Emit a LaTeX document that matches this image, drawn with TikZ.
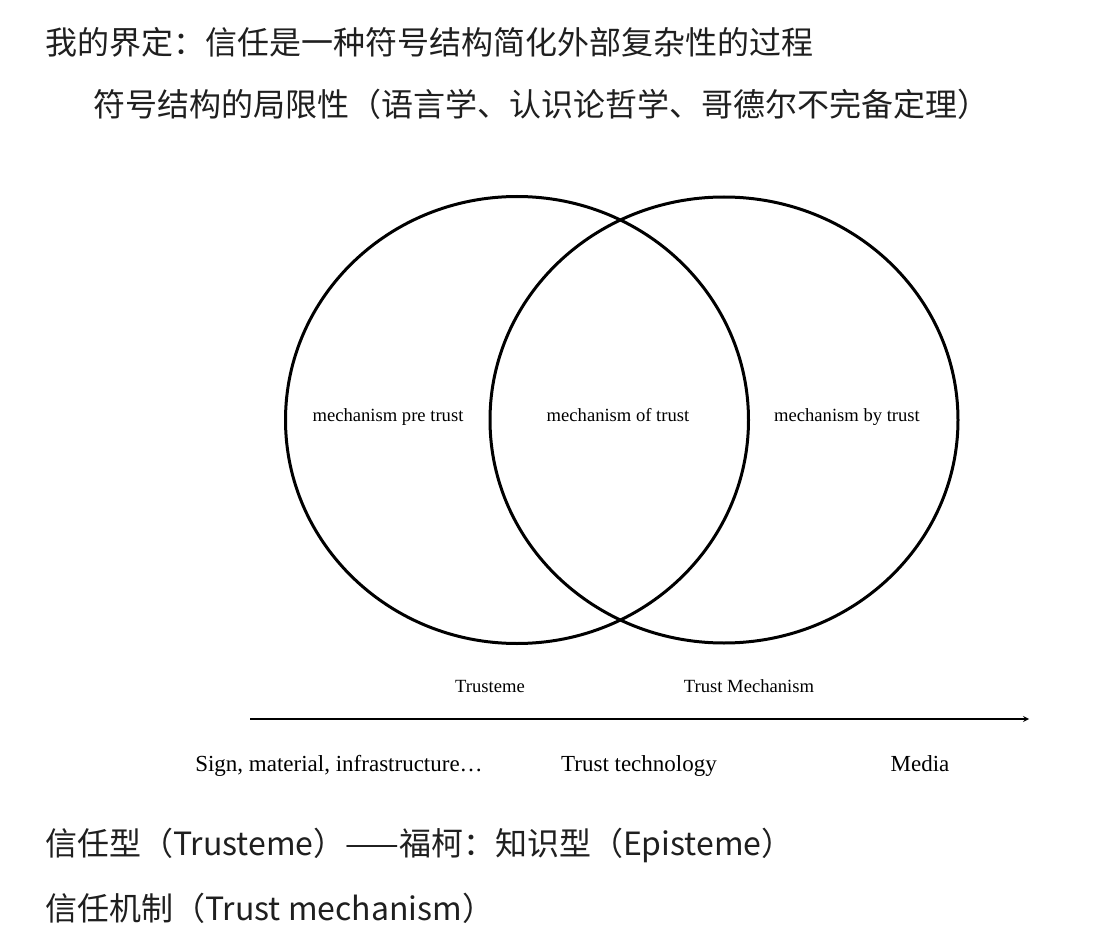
\documentclass[tikz,border=0pt]{standalone}
\usepackage{fontspec}
\setmainfont{Liberation Serif}
\newfontfamily\cjk{Noto Sans CJK SC}
\usetikzlibrary{shapes.geometric}
\begin{document}
\begin{tikzpicture}[x=1pt,y=-1pt,
  zh/.style={anchor=west,inner sep=0,font=\cjk\fontsize{32}{38}\selectfont,text=black!88},
  lab/.style={anchor=base,inner sep=0,font=\fontsize{18.6}{22}\selectfont},
  ax/.style={anchor=base,inner sep=0,font=\fontsize{23}{27}\selectfont},
  ring/.style={draw,line width=3pt,ellipse,inner sep=0}]
\useasboundingbox[fill=white] (0,0) rectangle (1096,944);
\node[zh] (t1) at (45,42) {我的界定：信任是一种符号结构简化外部复杂性的过程};
\node[zh] (t2) at (93,104) {符号结构的局限性（语言学、认识论哲学、哥德尔不完备定理）};
\node[ring,minimum width=463pt,minimum height=447pt] (c1) at (517,420) {};
\node[ring,minimum width=468pt,minimum height=446pt] (c2) at (724,420) {};
\node[lab] (m1) at (388,421) {mechanism pre trust};
\node[lab] (m2) at (618,421) {mechanism of trust};
\node[lab] (m3) at (847,421) {mechanism by trust};
\node[lab] (ts) at (490,692) {Trusteme};
\node[lab] (tm) at (749,692) {Trust Mechanism};
\coordinate (a0) at (250,719);
\coordinate (a1) at (1029,719);
\draw[line width=1.6pt,-stealth] (a0) -- (a1);
\node[ax] (s1) at (339,771) {Sign, material, infrastructure…};
\node[ax] (s2) at (639,771) {Trust technology};
\node[ax] (s3) at (920,771) {Media};
\node[zh] (b1) at (45,845) {信任型（Trusteme）——福柯：知识型（Episteme）};
\node[zh] (b2) at (45,908) {信任机制（Trust mechanism）};
\end{tikzpicture}
\end{document}
